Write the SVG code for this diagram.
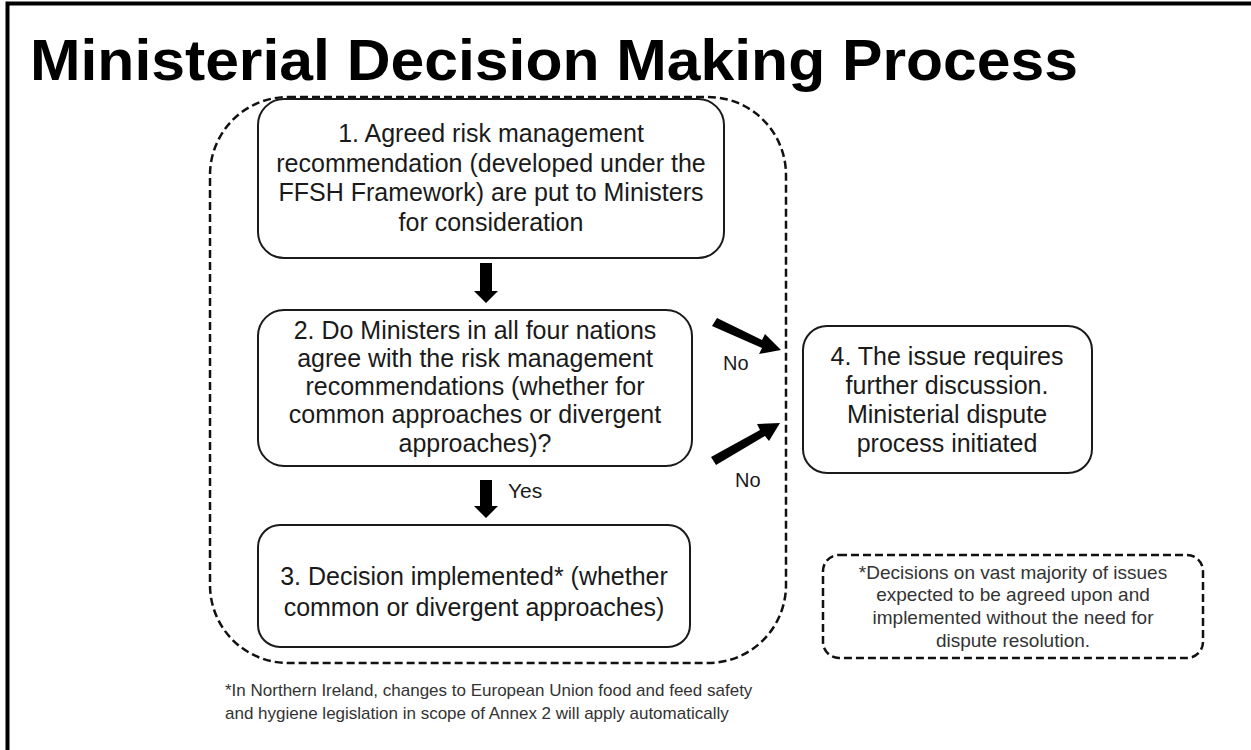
<svg xmlns="http://www.w3.org/2000/svg" width="1251" height="750" viewBox="0 0 1251 750">
<style>
.t{font-family:"Liberation Sans",Arial,sans-serif;fill:#1a1a1a;text-anchor:middle}
.b{font-size:25px}
.box{fill:#fff;stroke:#1a1a1a;stroke-width:2}
.dash{fill:none;stroke:#111;stroke-width:2.5;stroke-dasharray:8 4}
.arr{fill:#000}
.s{font-size:19px;fill:#333}
.lbl{font-family:"Liberation Sans",Arial,sans-serif;fill:#1a1a1a}
</style>
<rect width="1251" height="750" fill="#fff"/>
<path d="M7.5 750 V3.5 H1251" fill="none" stroke="#000" stroke-width="4"/>
<text x="30" y="80" font-family="Liberation Sans,Arial,sans-serif" font-weight="bold" font-size="58" fill="#000" textLength="1048" lengthAdjust="spacingAndGlyphs">Ministerial Decision Making Process</text>
<g id="container"><rect class="dash" x="210" y="97" width="576" height="566" rx="78"/></g>
<g id="n1"><rect class="box" x="258" y="99" width="466" height="159" rx="26"/>
<text class="t b"><tspan x="491" y="142">1. Agreed risk management</tspan><tspan x="491" y="172">recommendation (developed under the</tspan><tspan x="491" y="201">FFSH Framework) are put to Ministers</tspan><tspan x="491" y="231">for consideration</tspan></text></g>
<g id="n2"><rect class="box" x="258" y="310" width="434" height="156" rx="26"/>
<text class="t b"><tspan x="475" y="339">2. Do Ministers in all four nations</tspan><tspan x="475" y="367">agree with the risk management</tspan><tspan x="475" y="395">recommendations (whether for</tspan><tspan x="475" y="423">common approaches or divergent</tspan><tspan x="475" y="452">approaches)?</tspan></text></g>
<g id="n3"><rect class="box" x="258" y="525" width="432" height="122" rx="22"/>
<text class="t b"><tspan x="474" y="585">3. Decision implemented* (whether</tspan><tspan x="474" y="616">common or divergent approaches)</tspan></text></g>
<g id="n4"><rect class="box" x="803" y="326" width="289" height="147" rx="24"/>
<text class="t b"><tspan x="947" y="365">4. The issue requires</tspan><tspan x="947" y="394">further discussion.</tspan><tspan x="947" y="423">Ministerial dispute</tspan><tspan x="947" y="452">process initiated</tspan></text></g>
<g id="note"><rect class="dash" x="823" y="555" width="380" height="103" rx="16" stroke-width="2.2"/>
<text class="t s"><tspan x="1013" y="579">*Decisions on vast majority of issues</tspan><tspan x="1013" y="601">expected to be agreed upon and</tspan><tspan x="1013" y="624">implemented without the need for</tspan><tspan x="1013" y="647">dispute resolution.</tspan></text></g>
<g id="footnote"><text font-family="Liberation Sans,Arial,sans-serif" font-size="17" fill="#333"><tspan x="225" y="696">*In Northern Ireland, changes to European Union food and feed safety</tspan><tspan x="225" y="719">and hygiene legislation in scope of Annex 2 will apply automatically</tspan></text></g>
<g id="connectors">
<polygon class="arr" points="480,263 492,263 492,291 498,291 486,303 474,291 480,291"/>
<polygon class="arr" points="480,480 492,480 492,506 498,506 486,518 474,506 480,506"/>
<polygon class="arr" points="717,318 762,340 765,334 781,350 759,354 762,348 712,326"/>
<polygon class="arr" points="711,457 760,430 757,424 780,423 769,441 765,436 716,465"/>
<text class="lbl" font-size="20"><tspan x="723" y="370">No</tspan><tspan x="735" y="487">No</tspan></text>
<text class="lbl" font-size="21" x="508" y="498">Yes</text>
</g>
</svg>
